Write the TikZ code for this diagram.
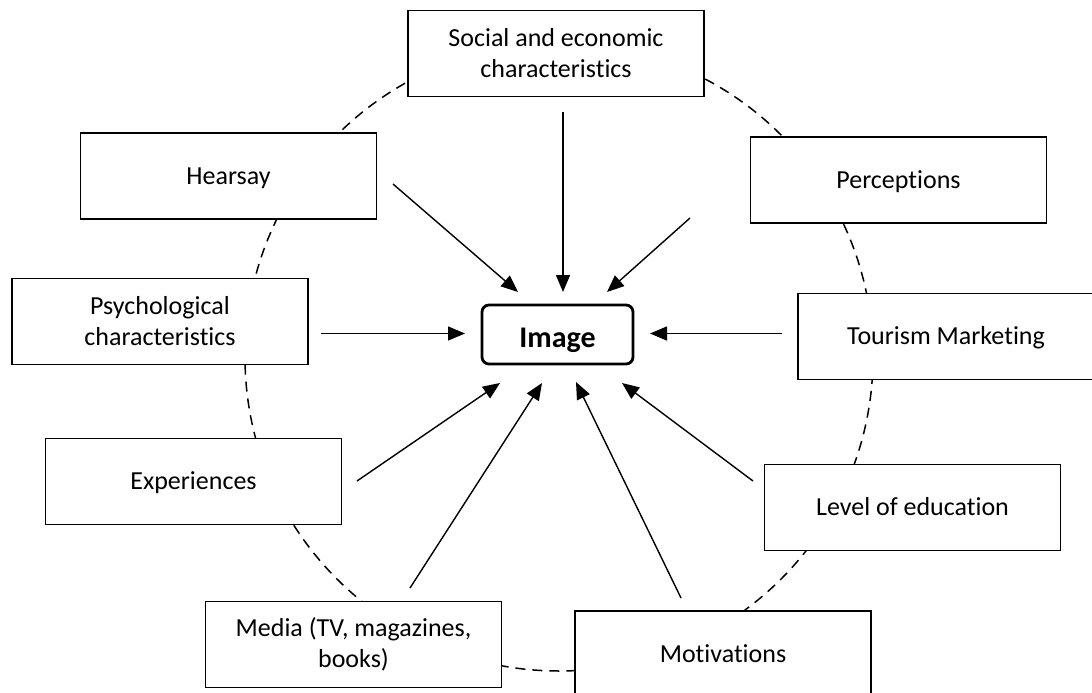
\documentclass[tikz,border=0pt]{standalone}
\usepackage{fontspec}
\setmainfont{Carlito}[Ligatures=NoCommon]
\usetikzlibrary{arrows.meta}
\begin{document}
\begin{tikzpicture}[x=1pt,y=-1pt,
  factor/.style={draw, line width=1.5pt, fill=white, minimum width=296pt,
    minimum height=86pt, align=center, inner sep=0pt,
    font=\fontsize{26}{31}\selectfont},
  oneline/.style={factor, text height=16pt, text depth=0pt},
  core/.style={draw, line width=2.8pt, rounded corners=7pt, fill=white,
    minimum width=151pt, minimum height=59pt, inner sep=0pt,
    text height=25pt, text depth=0pt,
    font=\bfseries\fontsize{30}{35}\selectfont},
  ring/.style={dash pattern=on 10pt off 7pt, line width=1.5pt},
  link/.style={-{Triangle[length=17pt,width=14pt]}, line width=1.4pt}]

\useasboundingbox (0,0) rectangle (1092,693);

% dashed ring behind the factor boxes
\draw[ring] (559,357) circle[radius=314];

% factor boxes
\node[factor]  (social)  at (556,53.5)   {Social and economic\\characteristics};
\node[oneline] (hearsay) at (228.5,176)  {Hearsay};
\node[oneline] (percep)  at (898.5,180)  {Perceptions};
\node[factor]  (psych)   at (160,321.5)  {Psychological\\characteristics};
\node[oneline] (tourism) at (946,336.5)  {Tourism Marketing};
\node[oneline] (exper)   at (193.5,481.5){Experiences};
\node[oneline] (level)   at (912.5,507.5){Level of education};
\node[factor]  (media)   at (353.5,644.5){Media (TV, magazines,\\books)};
\node[oneline] (motiv)   at (723,654)    {Motivations};

% central concept
\node[core] (image) at (557.5,334.5) {Image};

% arrow end points
\coordinate (hs) at (393,184);   \coordinate (ht) at (518,292);
\coordinate (ss) at (563,112);   \coordinate (st) at (563,292);
\coordinate (ps) at (690,218);   \coordinate (pt) at (607,292);
\coordinate (ys) at (321,333.5); \coordinate (yt) at (465,333.5);
\coordinate (ts) at (782,333.5); \coordinate (tt) at (650,333.5);
\coordinate (es) at (357,481);   \coordinate (et) at (500,383);
\coordinate (ms) at (410,588);   \coordinate (mt) at (542,383);
\coordinate (vs) at (681,598);   \coordinate (vt) at (576,382);
\coordinate (ls) at (753,481);   \coordinate (lt) at (622,383);

\draw[link] (hs) -- (ht);
\draw[link] (ss) -- (st);
\draw[link] (ps) -- (pt);
\draw[link] (ys) -- (yt);
\draw[link] (ts) -- (tt);
\draw[link] (es) -- (et);
\draw[link] (ms) -- (mt);
\draw[link] (vs) -- (vt);
\draw[link] (ls) -- (lt);
\end{tikzpicture}
\end{document}
